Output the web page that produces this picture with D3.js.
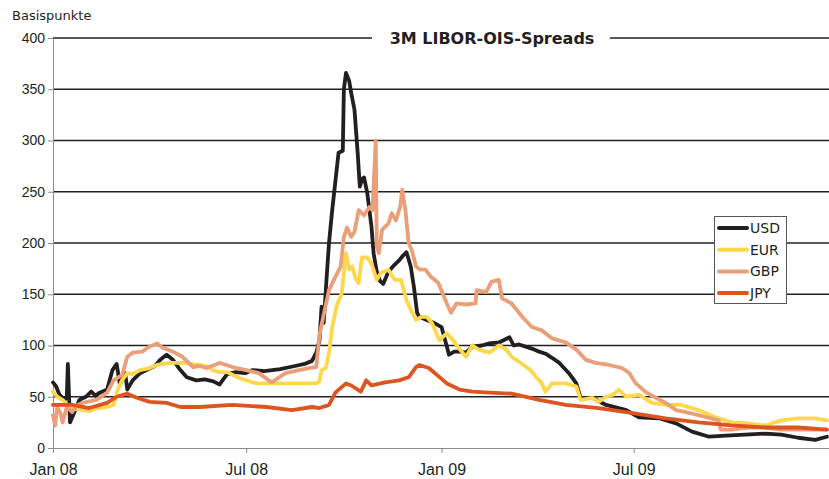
<!DOCTYPE html>
<html>
<head>
<meta charset="utf-8">
<script src="https://cdn.jsdelivr.net/npm/d3@7"></script>
<style>
  body { margin: 0; background: #fff; }
  svg { font-family: "DejaVu Sans", Verdana, sans-serif; }
  .axis path, .axis line { stroke: #8c8c8c; }
  .axis text { font-size: 14px; fill: #231f20; }
  .x.axis text { font-size: 16px; }
  .grid line { stroke: #231f20; stroke-width: 1.4; }
  .series { fill: none; stroke-width: 3.8; stroke-linejoin: round; stroke-linecap: round; }
</style>
</head>
<body>
<div id="graph"></div>
<script>
// series: [date, basis points]
const usd = [
  ["2008-01-01",64],["2008-01-04",60],["2008-01-07",52],["2008-01-12",47],["2008-01-14",50],["2008-01-15",82],["2008-01-17",25],
  ["2008-01-22",37],["2008-01-26",47],["2008-02-01",50],["2008-02-06",55],["2008-02-10",51],["2008-02-14",54],["2008-02-21",57],
  ["2008-02-26",76],["2008-03-01",82],["2008-03-04",62],["2008-03-09",73],["2008-03-11",57],["2008-03-16",66],
  ["2008-03-23",73],["2008-03-29",76],["2008-04-06",80],["2008-04-11",86],["2008-04-17",91],["2008-04-23",86],
  ["2008-04-30",76],["2008-05-06",69],["2008-05-15",66],["2008-05-23",67],["2008-05-31",65],["2008-06-06",62],
  ["2008-06-13",72],["2008-06-21",74],["2008-06-30",73],["2008-07-07",76],["2008-07-18",75],["2008-08-02",77],
  ["2008-08-16",80],["2008-08-25",82],["2008-09-01",85],["2008-09-05",93],["2008-09-08",105],["2008-09-10",138],
  ["2008-09-12",122],["2008-09-15",170],["2008-09-17",200],["2008-09-20",232],["2008-09-23",260],["2008-09-26",288],
  ["2008-09-30",290],["2008-10-01",350],["2008-10-03",366],["2008-10-06",358],["2008-10-08",346],["2008-10-11",330],
  ["2008-10-14",288],["2008-10-16",255],["2008-10-18",262],["2008-10-20",264],["2008-10-23",249],["2008-10-27",216],
  ["2008-10-29",190],["2008-11-01",172],["2008-11-04",163],["2008-11-07",160],["2008-11-12",172],["2008-11-17",178],
  ["2008-11-22",183],["2008-11-26",188],["2008-11-29",191],["2008-12-03",177],["2008-12-06",157],["2008-12-09",132],
  ["2008-12-11",128],["2008-12-18",125],["2008-12-25",122],["2009-01-01",118],["2009-01-06",99],["2009-01-08",91],
  ["2009-01-13",94],["2009-01-18",94],["2009-01-24",93],["2009-01-30",99],["2009-02-08",100],["2009-02-15",102],
  ["2009-02-24",103],["2009-03-06",108],["2009-03-10",100],["2009-03-15",101],["2009-03-27",97],["2009-04-03",94],
  ["2009-04-09",92],["2009-04-15",88],["2009-04-22",83],["2009-05-01",73],["2009-05-08",63],["2009-05-12",49],
  ["2009-05-23",49],["2009-06-05",42],["2009-06-24",37],["2009-07-06",30],["2009-07-25",29],["2009-08-10",24],
  ["2009-08-25",16],["2009-09-10",11],["2009-09-26",12],["2009-10-14",13],["2009-11-02",14],["2009-11-17",13],
  ["2009-12-03",10],["2009-12-19",8],["2009-12-30",11]
];

const eur = [
  ["2008-01-01",55],["2008-01-05",50],["2008-01-10",47],["2008-01-17",39],["2008-01-29",37],["2008-02-05",36],
  ["2008-02-11",39],["2008-02-21",40],["2008-02-27",42],["2008-03-02",57],["2008-03-06",66],["2008-03-11",73],
  ["2008-03-16",72],["2008-03-23",76],["2008-04-01",78],["2008-04-08",81],["2008-04-20",83],["2008-05-02",83],
  ["2008-05-18",81],["2008-05-28",79],["2008-05-30",76],["2008-06-06",74],["2008-06-13",74],["2008-06-25",68],
  ["2008-07-04",65],["2008-07-11",63],["2008-07-20",63],["2008-08-04",63],["2008-08-20",63],["2008-09-05",63],
  ["2008-09-08",65],["2008-09-10",76],["2008-09-14",78],["2008-09-17",93],["2008-09-20",118],["2008-09-24",138],
  ["2008-09-29",151],["2008-10-03",190],["2008-10-06",174],["2008-10-09",177],["2008-10-12",165],["2008-10-15",161],
  ["2008-10-18",186],["2008-10-23",186],["2008-10-27",180],["2008-11-01",164],["2008-11-05",171],["2008-11-12",174],
  ["2008-11-18",164],["2008-11-24",164],["2008-11-29",144],["2008-12-03",135],["2008-12-08",125],["2008-12-13",128],
  ["2008-12-18",128],["2008-12-23",122],["2008-12-30",105],["2009-01-06",112],["2009-01-12",105],["2009-01-16",99],
  ["2009-01-24",89],["2009-01-30",100],["2009-02-05",96],["2009-02-15",93],["2009-02-24",100],["2009-03-03",96],
  ["2009-03-08",89],["2009-03-18",82],["2009-03-27",75],["2009-03-31",69],["2009-04-05",64],["2009-04-09",55],
  ["2009-04-15",63],["2009-04-28",63],["2009-05-08",60],["2009-05-12",47],["2009-05-23",49],["2009-05-29",45],
  ["2009-06-05",50],["2009-06-12",52],["2009-06-17",57],["2009-06-24",50],["2009-07-06",52],["2009-07-18",44],
  ["2009-07-31",42],["2009-08-15",42],["2009-08-31",37],["2009-09-16",30],["2009-10-01",25],["2009-10-17",24],
  ["2009-11-02",22],["2009-11-17",27],["2009-12-03",29],["2009-12-19",29],["2009-12-30",27]
];

const gbp = [
  ["2008-01-01",32],["2008-01-03",22],["2008-01-05",40],["2008-01-08",34],["2008-01-10",25],["2008-01-14",40],
  ["2008-01-19",35],["2008-01-24",42],["2008-01-29",44],["2008-02-11",47],["2008-02-21",54],["2008-02-27",66],
  ["2008-03-06",71],["2008-03-11",89],["2008-03-16",93],["2008-03-25",94],["2008-04-01",99],["2008-04-08",102],
  ["2008-04-13",98],["2008-04-23",94],["2008-05-02",89],["2008-05-12",79],["2008-05-18",80],["2008-05-25",78],
  ["2008-06-06",83],["2008-06-18",79],["2008-07-01",76],["2008-07-13",73],["2008-07-25",64],["2008-08-07",73],
  ["2008-08-20",76],["2008-08-29",78],["2008-09-05",79],["2008-09-08",110],["2008-09-12",130],["2008-09-17",154],
  ["2008-09-23",167],["2008-09-28",177],["2008-10-01",206],["2008-10-04",215],["2008-10-08",206],["2008-10-11",211],
  ["2008-10-15",232],["2008-10-20",227],["2008-10-25",235],["2008-10-28",232],["2008-10-31",300],["2008-11-01",196],
  ["2008-11-03",190],["2008-11-06",213],["2008-11-12",219],["2008-11-15",229],["2008-11-19",222],["2008-11-23",235],
  ["2008-11-25",252],["2008-11-28",232],["2008-12-01",200],["2008-12-04",193],["2008-12-08",177],["2008-12-12",174],
  ["2008-12-17",174],["2008-12-22",167],["2008-12-29",161],["2009-01-06",141],["2009-01-10",132],["2009-01-15",141],
  ["2009-01-24",140],["2009-02-02",141],["2009-02-03",154],["2009-02-12",152],["2009-02-17",162],["2009-02-24",164],
  ["2009-02-27",146],["2009-03-08",141],["2009-03-18",128],["2009-03-27",118],["2009-04-05",115],["2009-04-15",107],
  ["2009-04-28",103],["2009-05-08",96],["2009-05-17",86],["2009-05-26",83],["2009-06-08",81],["2009-06-20",78],
  ["2009-06-27",73],["2009-07-03",63],["2009-07-13",54],["2009-07-22",49],["2009-07-31",44],["2009-08-10",37],
  ["2009-08-19",35],["2009-08-31",32],["2009-09-19",27],["2009-09-21",18],["2009-10-01",18],["2009-10-17",20],
  ["2009-11-02",20],["2009-11-17",18],["2009-12-03",18],["2009-12-30",18]
];

const jpy = [
  ["2008-01-01",42],["2008-01-19",42],["2008-02-04",39],["2008-02-21",44],["2008-03-01",50],["2008-03-11",53],
  ["2008-03-20",49],["2008-04-01",45],["2008-04-17",44],["2008-04-30",40],["2008-05-18",40],["2008-06-18",42],
  ["2008-07-20",40],["2008-08-13",37],["2008-09-01",40],["2008-09-08",39],["2008-09-17",42],["2008-09-23",54],
  ["2008-10-03",63],["2008-10-08",61],["2008-10-17",55],["2008-10-22",66],["2008-10-27",61],["2008-11-09",64],
  ["2008-11-22",66],["2008-12-01",69],["2008-12-08",79],["2008-12-11",81],["2008-12-20",78],["2009-01-06",63],
  ["2009-01-18",57],["2009-01-30",55],["2009-02-15",54],["2009-03-08",53],["2009-04-03",47],["2009-04-28",42],
  ["2009-05-29",39],["2009-06-30",34],["2009-07-31",29],["2009-08-31",25],["2009-10-01",22],["2009-11-02",20],
  ["2009-12-03",20],["2009-12-30",18]
];

const seriesNames = ["USD", "EUR", "GBP", "JPY"];
const seriesColors = ["#231f20", "#fdd74c", "#eb9f78", "#dc5520"];
const yTicks = [0, 50, 100, 150, 200, 250, 300, 350, 400];
const xTickDates = ["2008-01-01", "2008-07-01", "2009-01-01", "2009-07-01"];
const xTickLabels = ["Jan 08", "Jul 08", "Jan 09", "Jul 09"];

(function() {
    const width = 829, height = 479,
        left = 53, right = 829, top = 38, bottom = 448;

    const parse = d3.timeParse("%Y-%m-%d");

    const x = d3.scaleTime()
        .domain([parse("2008-01-01"), parse("2010-01-01")])
        .range([left, right]);

    const y = d3.scaleLinear()
        .domain([0, 400])
        .range([bottom, top]);

    const svg = d3.select("#graph")
        .append("svg")
        .attr("width", width)
        .attr("height", height);

    // horizontal grid lines
    svg.append("g")
        .attr("class", "grid")
        .selectAll("line")
        .data(yTicks.filter(d => d > 0))
        .enter()
        .append("line")
        .attr("x1", left)
        .attr("x2", right)
        .attr("y1", d => y(d))
        .attr("y2", d => y(d));

    // title with white backing over the top grid line
    const title = svg.append("g");
    title.append("rect")
        .attr("x", 372).attr("y", 28)
        .attr("width", 238).attr("height", 22)
        .attr("fill", "#fff");
    title.append("text")
        .attr("x", 492).attr("y", 44)
        .attr("text-anchor", "middle")
        .style("font-size", "16px")
        .style("font-weight", "bold")
        .style("fill", "#231f20")
        .text("3M LIBOR-OIS-Spreads");

    svg.append("text")
        .attr("x", 12).attr("y", 20)
        .style("font-size", "13px")
        .style("fill", "#231f20")
        .text("Basispunkte");

    const yAxis = d3.axisLeft(y)
        .tickValues(yTicks)
        .tickSize(5)
        .tickPadding(3)
        .tickSizeOuter(0);

    svg.append("g")
        .attr("class", "y axis")
        .attr("transform", "translate(" + left + ",0)")
        .call(yAxis);

    const xAxis = d3.axisBottom(x)
        .tickValues(xTickDates.map(parse))
        .tickFormat((d, i) => xTickLabels[i])
        .tickSize(5)
        .tickPadding(11)
        .tickSizeOuter(0);

    svg.append("g")
        .attr("class", "x axis")
        .attr("transform", "translate(0," + bottom + ")")
        .call(xAxis);

    const line = d3.line()
        .x(d => x(parse(d[0])))
        .y(d => y(d[1]));

    const allSeries = [usd, eur, gbp, jpy];

    svg.selectAll(".series")
        .data(allSeries)
        .enter()
        .append("path")
        .attr("class", "series")
        .attr("stroke", (d, i) => seriesColors[i])
        .attr("d", line);

    // legend
    const legend = svg.append("g")
        .attr("transform", "translate(714,216)");

    legend.append("rect")
        .attr("x", 0.5).attr("y", 0.5)
        .attr("width", 72).attr("height", 87)
        .attr("fill", "#fff")
        .attr("stroke", "#555");

    const item = legend.selectAll(".item")
        .data(seriesNames)
        .enter()
        .append("g")
        .attr("transform", (d, i) => "translate(0," + (12 + i * 21.7) + ")");

    item.append("line")
        .attr("x1", 5).attr("x2", 33)
        .attr("stroke", (d, i) => seriesColors[i])
        .attr("stroke-width", 4)
        .attr("stroke-linecap", "round");

    item.append("text")
        .attr("x", 36).attr("y", 5)
        .style("font-size", "14px")
        .style("fill", "#231f20")
        .text(d => d);
})();
</script>
</body>
</html>
